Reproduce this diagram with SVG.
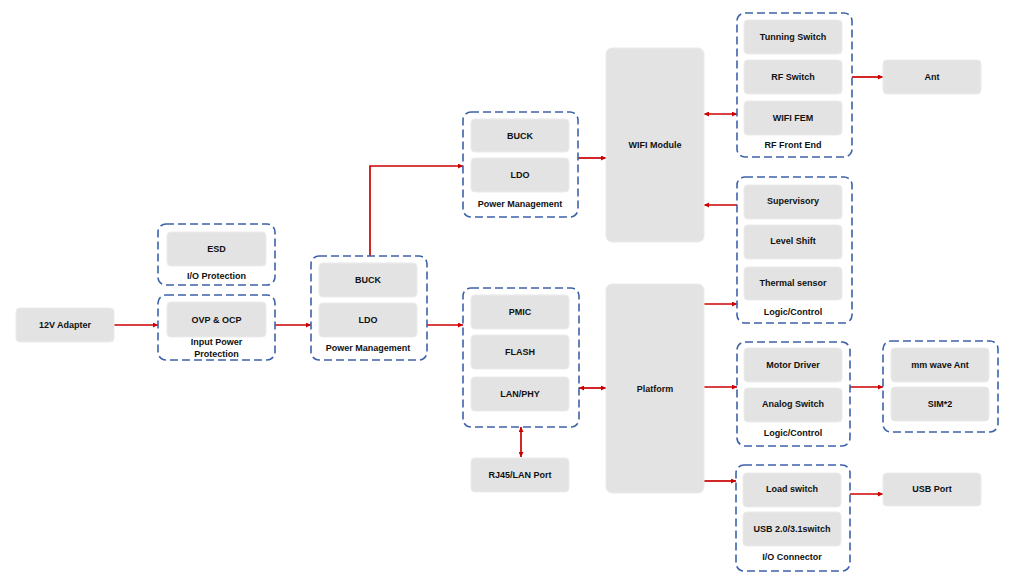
<svg xmlns="http://www.w3.org/2000/svg" width="1026" height="581" viewBox="0 0 1026 581">
<defs>
<style>
.box{fill:#e3e3e3;stroke:#ebebeb;stroke-width:1}
.grp{fill:none;stroke:#3d62ab;stroke-width:1.6;stroke-dasharray:8,4}
.t{font-family:"Liberation Sans",Arial,sans-serif;font-size:9px;font-weight:bold;fill:#111;text-anchor:middle;dominant-baseline:central}
.c{fill:none;stroke:#cc0000;stroke-width:1.7}
</style>
<marker id="ah" viewBox="0 0 6 6" refX="6" refY="3" markerWidth="5" markerHeight="5" markerUnits="userSpaceOnUse" orient="auto-start-reverse">
<path d="M0,0 L6,3 L0,6 z" fill="#cc0000"/>
</marker>
</defs>
<rect width="1026" height="581" fill="#ffffff"/>

<g id="connectors">
<path class="c" d="M114,325 H158" marker-end="url(#ah)"/>
<path class="c" d="M275,325 H311" marker-end="url(#ah)"/>
<path class="c" d="M427,325 H463" marker-end="url(#ah)"/>
<path class="c" d="M370,256 V166 H463" marker-end="url(#ah)"/>
<path class="c" d="M578,158 H606" marker-end="url(#ah)"/>
<path class="c" d="M704,114 H737" marker-start="url(#ah)" marker-end="url(#ah)"/>
<path class="c" d="M852,77 H883" marker-end="url(#ah)"/>
<path class="c" d="M737,205 H704" marker-end="url(#ah)"/>
<path class="c" d="M704,304 H737" marker-end="url(#ah)"/>
<path class="c" d="M579,388 H606" marker-start="url(#ah)" marker-end="url(#ah)"/>
<path class="c" d="M521,427 V457" marker-start="url(#ah)" marker-end="url(#ah)"/>
<path class="c" d="M704,387 H737" marker-end="url(#ah)"/>
<path class="c" d="M850,387 H883" marker-end="url(#ah)"/>
<path class="c" d="M704,481 H736" marker-end="url(#ah)"/>
<path class="c" d="M850,494 H883" marker-end="url(#ah)"/>
</g>

<g id="adapter">
<rect class="box" x="16" y="308" width="98" height="34" rx="4"/>
<text class="t" x="65" y="325">12V Adapter</text>
</g>

<g id="io-protection">
<rect class="grp" x="158" y="224" width="117" height="61" rx="8"/>
<rect class="box" x="167" y="232" width="99" height="34" rx="4"/>
<text class="t" x="216.5" y="249">ESD</text>
<text class="t" x="216.5" y="276">I/O Protection</text>
</g>

<g id="input-power-protection">
<rect class="grp" x="158" y="295" width="117" height="65" rx="8"/>
<rect class="box" x="167" y="302" width="99" height="35" rx="4"/>
<text class="t" x="216.5" y="319.5">OVP &amp; OCP</text>
<text class="t" x="216.5" y="342">Input Power</text>
<text class="t" x="216.5" y="353.5">Protection</text>
</g>

<g id="power-management-main">
<rect class="grp" x="311" y="256" width="116" height="104" rx="8"/>
<rect class="box" x="319" y="263" width="98" height="34" rx="4"/>
<text class="t" x="368" y="280">BUCK</text>
<rect class="box" x="319" y="303" width="98" height="34" rx="4"/>
<text class="t" x="368" y="320">LDO</text>
<text class="t" x="368" y="348">Power Management</text>
</g>

<g id="power-management-wifi">
<rect class="grp" x="463" y="112" width="115" height="105" rx="8"/>
<rect class="box" x="471" y="119" width="98" height="33" rx="4"/>
<text class="t" x="520" y="135.5">BUCK</text>
<rect class="box" x="471" y="158" width="98" height="34" rx="4"/>
<text class="t" x="520" y="175">LDO</text>
<text class="t" x="520" y="204">Power Management</text>
</g>

<g id="pmic-group">
<rect class="grp" x="463" y="288" width="116" height="139" rx="8"/>
<rect class="box" x="471" y="295" width="98" height="34" rx="4"/>
<text class="t" x="520" y="312">PMIC</text>
<rect class="box" x="471" y="335" width="98" height="34" rx="4"/>
<text class="t" x="520" y="352">FLASH</text>
<rect class="box" x="471" y="377" width="98" height="34" rx="4"/>
<text class="t" x="520" y="394">LAN/PHY</text>
</g>

<g id="rj45">
<rect class="box" x="471" y="458" width="98" height="34" rx="4"/>
<text class="t" x="520" y="475">RJ45/LAN Port</text>
</g>

<g id="wifi-module">
<rect class="box" x="606" y="48" width="98" height="194" rx="6"/>
<text class="t" x="655" y="145">WIFI Module</text>
</g>

<g id="platform">
<rect class="box" x="606" y="284" width="98" height="209" rx="6"/>
<text class="t" x="655" y="389">Platform</text>
</g>

<g id="rf-front-end">
<rect class="grp" x="737" y="13" width="115" height="144" rx="8"/>
<rect class="box" x="744" y="20" width="98" height="34" rx="4"/>
<text class="t" x="793" y="37">Tunning Switch</text>
<rect class="box" x="744" y="60" width="98" height="34" rx="4"/>
<text class="t" x="793" y="77">RF Switch</text>
<rect class="box" x="744" y="101" width="98" height="34" rx="4"/>
<text class="t" x="793" y="118">WIFI FEM</text>
<text class="t" x="793" y="145">RF Front End</text>
</g>

<g id="ant">
<rect class="box" x="883" y="60" width="98" height="34" rx="4"/>
<text class="t" x="932" y="77">Ant</text>
</g>

<g id="logic-control-1">
<rect class="grp" x="737" y="177" width="115" height="146" rx="8"/>
<rect class="box" x="744" y="185" width="98" height="34" rx="4"/>
<text class="t" x="793" y="201">Supervisory</text>
<rect class="box" x="744" y="225" width="98" height="34" rx="4"/>
<text class="t" x="793" y="241">Level Shift</text>
<rect class="box" x="744" y="267" width="98" height="33" rx="4"/>
<text class="t" x="793" y="283">Thermal sensor</text>
<text class="t" x="793" y="312">Logic/Control</text>
</g>

<g id="logic-control-2">
<rect class="grp" x="737" y="342" width="113" height="104" rx="8"/>
<rect class="box" x="744" y="348" width="98" height="34" rx="4"/>
<text class="t" x="793" y="365">Motor Driver</text>
<rect class="box" x="744" y="388" width="98" height="34" rx="4"/>
<text class="t" x="793" y="404">Analog Switch</text>
<text class="t" x="793" y="433">Logic/Control</text>
</g>

<g id="mmwave-group">
<rect class="grp" x="883" y="341" width="115" height="91" rx="8"/>
<rect class="box" x="891" y="348" width="98" height="34" rx="4"/>
<text class="t" x="940" y="364.5">mm wave Ant</text>
<rect class="box" x="891" y="387" width="98" height="34" rx="4"/>
<text class="t" x="940" y="404">SIM*2</text>
</g>

<g id="io-connector">
<rect class="grp" x="736" y="465" width="114" height="106" rx="8"/>
<rect class="box" x="743" y="473" width="98" height="34" rx="4"/>
<text class="t" x="792" y="489">Load switch</text>
<rect class="box" x="743" y="512" width="98" height="34" rx="4"/>
<text class="t" x="792" y="529">USB 2.0/3.1switch</text>
<text class="t" x="792" y="557">I/O Connector</text>
</g>

<g id="usb-port">
<rect class="box" x="883" y="473" width="98" height="33" rx="4"/>
<text class="t" x="932" y="489">USB Port</text>
</g>
</svg>
